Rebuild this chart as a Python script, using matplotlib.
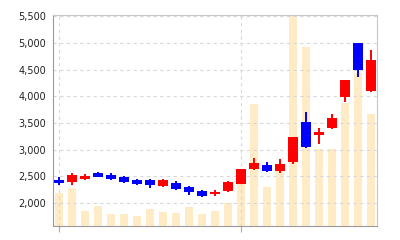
import numpy as np
import matplotlib
matplotlib.use('Agg')
import matplotlib.pyplot as plt

# daily candles (index 0..24)
opens = [2430, 2390, 2455, 2555, 2525, 2480, 2430, 2425, 2315, 2380, 2300, 2225, 2170,
         2225, 2355, 2640, 2705, 2605, 2775, 3515, 3275, 3400, 3995, 4995, 4100]
closes = [2380, 2525, 2505, 2495, 2455, 2395, 2355, 2345, 2425, 2255, 2200, 2130, 2215,
          2395, 2630, 2750, 2600, 2730, 3230, 3055, 3340, 3600, 4305, 4495, 4680]
highs = [2480, 2570, 2540, 2575, 2570, 2505, 2455, 2445, 2455, 2415, 2315, 2245, 2245,
         2415, 2645, 2845, 2765, 2820, 3240, 3715, 3400, 3670, 4305, 4995, 4870]
lows = [2345, 2340, 2430, 2480, 2430, 2370, 2340, 2275, 2295, 2240, 2145, 2120, 2140,
        2205, 2350, 2610, 2580, 2570, 2725, 3025, 3105, 3380, 3890, 4370, 4090]
volumes = [1570, 1780, 720, 960, 580, 550, 470, 800, 660, 610, 880, 580, 710,
           1085, 2360, 5750, 1850, 2740, 11000, 8460, 3660, 3630, 5820, 7220, 5280]

month_ticks = [0, 14]
price_ticks = [2000, 2500, 3000, 3500, 4000, 4500, 5000, 5500]

x = np.arange(len(opens))
o = np.array(opens)
c = np.array(closes)
colors = ['#ff0000' if cc >= oo else '#0000ff' for oo, cc in zip(o, c)]

fig = plt.figure(figsize=(4, 2.4), dpi=100)
ax2 = fig.add_axes([0.1325, 0.0583, 0.81, 0.8805])
ax = fig.add_axes([0.1325, 0.0583, 0.81, 0.8805], sharex=ax2)

# volume behind
ax2.bar(x, volumes, width=0.62, color='#ffecc6', zorder=1)
ax2.set_ylim(0, 10000)
ax2.set_yticks([])
for s in ax2.spines.values():
    s.set_visible(False)

ax.patch.set_visible(False)
ax.vlines(x, lows, highs, colors=colors, linewidth=1.4, zorder=3)
ax.bar(x, np.abs(c - o), bottom=np.minimum(o, c), width=0.75, color=colors, zorder=4)

ax.set_xlim(-0.46, 24.46)
ax.set_ylim(1569, 5531)
ax.set_yticks(price_ticks)
ax.set_yticklabels([f'{t:,}' for t in price_ticks])
ax.set_xticks(month_ticks)
ax.set_xticklabels(['', ''])
ax.tick_params(axis='y', length=0, pad=5, labelsize=7, labelcolor='#222222')
ax.tick_params(axis='x', length=4, color='#aaaaaa')
ax2.tick_params(axis='x', length=0)
ax.grid(True, linestyle=(0, (3, 3)), color='#d8d8d8', linewidth=0.8, zorder=0)

for side in ['left', 'bottom']:
    ax.spines[side].set_color('#999999')
for side in ['top', 'right']:
    ax.spines[side].set_color('#c8c8c8')

fig.savefig('out.png', dpi=100)
